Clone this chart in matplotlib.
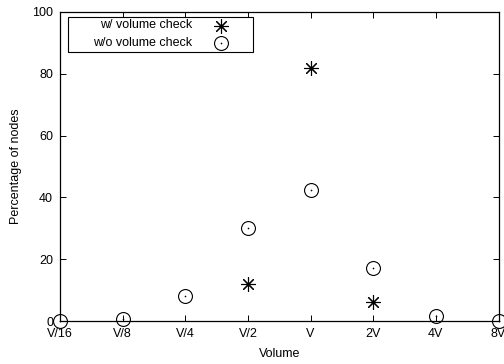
import matplotlib
matplotlib.use("Agg")
import matplotlib.pyplot as plt
from matplotlib.patches import Rectangle

plt.rcParams['font.family'] = ['Liberation Sans', 'DejaVu Sans']

categories = ["V/16", "V/8", "V/4", "V/2", "V", "2V", "4V", "8V"]
with_check_x = ["V/2", "V", "2V"]
with_check = [12, 82, 6]
without_check_x = ["V/16", "V/8", "V/4", "V/2", "V", "2V", "4V", "8V"]
without_check = [0, 0.5, 8, 30, 42.3, 17.2, 1.5, 0]
yticks = [0, 20, 40, 60, 80, 100]
labels = ["w/ volume check", "w/o volume check"]

FS = 9
L, R, T, B = 60, 498.5, 12, 321
fig = plt.figure(figsize=(5.04, 3.64), dpi=100)
ax = fig.add_axes([L/504, 1-B/364, (R-L)/504, (B-T)/364])

def axpt(px, py):
    return ((px - L) / (R - L), (B - py) / (B - T))

pos = {c: i for i, c in enumerate(categories)}
wx = [pos[c] for c in with_check_x]
ox = [pos[c] for c in without_check_x]

star = dict(linestyle='none', marker=(8, 2, 0), markersize=10.5,
            markeredgewidth=0.8, color='black', clip_on=False, zorder=5)
circ = dict(linestyle='none', marker='o', markersize=10,
            markerfacecolor='none', markeredgecolor='black', markeredgewidth=0.8,
            clip_on=False, zorder=5)
dot = dict(linestyle='none', marker='o', markersize=1.2,
           color='black', markeredgewidth=0, clip_on=False, zorder=5)

ax.plot(wx, with_check, **star)
ax.plot(ox, without_check, **circ)
ax.plot(ox, without_check, **dot)

ax.set_xlim(0, len(categories) - 1)
ax.set_ylim(0, 100)
ax.set_xticks(range(len(categories)))
ax.set_xticklabels(categories)
ax.set_yticks(yticks)
ax.tick_params(direction='in', length=4, width=0.7, labelsize=FS,
               top=True, right=True)
ax.tick_params(axis='x', pad=5)
ax.tick_params(axis='y', pad=5)
for s in ax.spines.values():
    s.set_linewidth(0.9)

ax.set_xlabel("Volume", fontsize=FS, labelpad=6)
ax.set_ylabel("Percentage of nodes", fontsize=FS, labelpad=7)

# manual gnuplot-style key
x0, y0 = axpt(68, 52)
x1, y1 = axpt(253, 17)
ax.add_patch(Rectangle((x0, y0), x1 - x0, y1 - y0, transform=ax.transAxes,
                       facecolor='white', edgecolor='black', linewidth=0.8,
                       zorder=6, clip_on=False))
styles = [[star], [circ, dot]]
for i, (lab, sty) in enumerate(zip(labels, styles)):
    ty = 25.5 + 17 * i
    tx, tyy = axpt(192, ty)
    ax.text(tx, tyy, lab, transform=ax.transAxes, ha='right', va='center',
            fontsize=FS, zorder=7)
    mx, my = axpt(221, ty)
    for s in sty:
        d = dict(s)
        d['zorder'] = 7
        ax.plot([mx], [my], transform=ax.transAxes, **d)

fig.savefig("out.png", dpi=100)
